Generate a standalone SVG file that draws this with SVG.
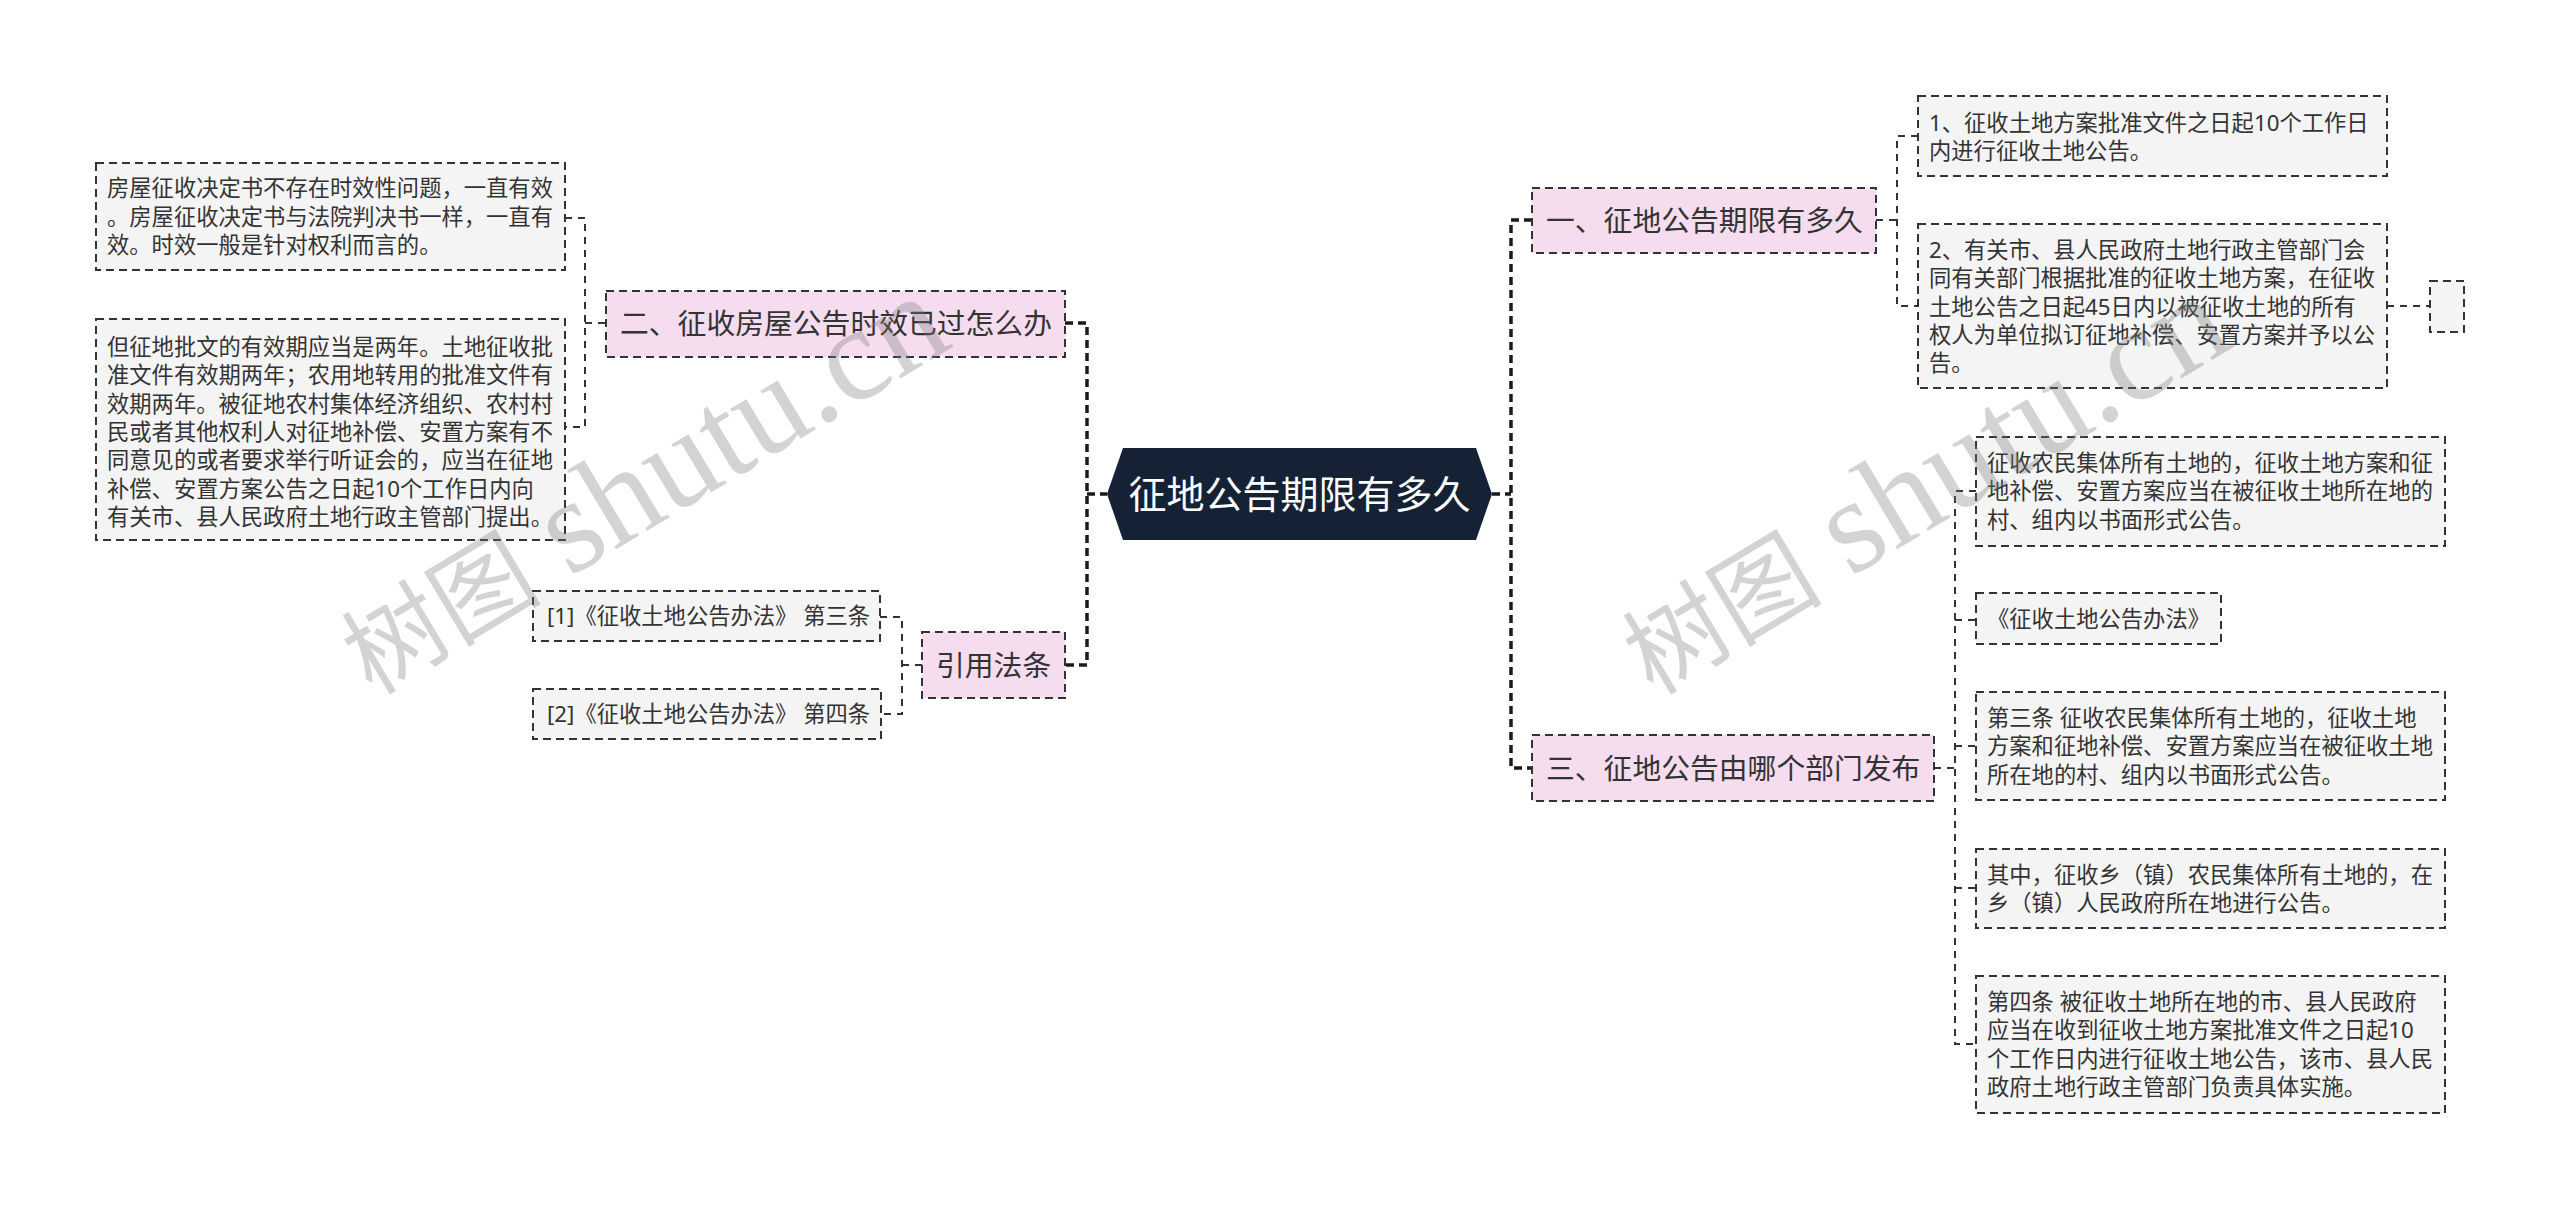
<svg xmlns="http://www.w3.org/2000/svg" width="2560" height="1209" viewBox="0 0 2560 1209">
<style>
.bg{fill:#ffffff}
.box{fill:#f4f4f4;stroke:#333333;stroke-width:2;stroke-dasharray:8 5}
.topic{fill:#f5dcef;stroke:#333333;stroke-width:2;stroke-dasharray:8 5}
.root{fill:#152236}
.t{font-family:"Noto Sans","Noto Sans CJK SC",sans-serif;font-size:22.3px;fill:#333333}
.tt{font-family:"Noto Sans","Noto Sans CJK SC",sans-serif;font-size:28.8px;fill:#333333}
.rt{font-family:"Noto Sans","Noto Sans CJK SC",sans-serif;font-size:38px;fill:#ffffff}
.main{fill:none;stroke:#1a1a1a;stroke-width:3.5;stroke-dasharray:8 5}
.sub{fill:none;stroke:#333333;stroke-width:2;stroke-dasharray:7 6}
.wm{font-family:"Liberation Serif","Noto Sans CJK SC",serif;fill:#7a7a7a;fill-opacity:0.33}
</style>
<rect class="bg" x="0" y="0" width="2560" height="1209"/>

<g id="connectors">
<path class="main" d="M1065,323 H1087 V665 H1065 M1087,494 H1107"/>
<path class="main" d="M1532,220 H1511 V768 H1532 M1492,494 H1511"/>
<path class="sub" d="M565,218 H585 V427 H565 M585,323 H606"/>
<path class="sub" d="M880,617 H902 V714 H881 M902,665 H922"/>
<path class="sub" d="M1876,220 H1897 M1918,136 H1897 V306 H1918"/>
<path class="sub" d="M2387,306 H2430"/>
<path class="sub" d="M1934,768 H1955 M1976,491 H1955 V1044 H1976 M1955,620 H1976 M1955,746 H1976 M1955,888 H1976"/>
</g>

<g id="root">
<polygon class="root" points="1107,494 1123,448 1476,448 1492,494 1476,540 1123,540"/>
<text class="rt" x="1299.5" y="508" text-anchor="middle">征地公告期限有多久</text>
</g>

<g id="topic2">
<rect class="topic" x="606" y="291" width="459" height="66"/>
<text class="tt" x="620" y="334">二、征收房屋公告时效已过怎么办</text>
</g>

<g id="topicRef">
<rect class="topic" x="922" y="632" width="143" height="66"/>
<text class="tt" x="936" y="676">引用法条</text>
</g>

<g id="topic1">
<rect class="topic" x="1532" y="188" width="344" height="65"/>
<text class="tt" x="1546" y="231">一、征地公告期限有多久</text>
</g>

<g id="topic3">
<rect class="topic" x="1532" y="735" width="402" height="66"/>
<text class="tt" x="1546" y="779">三、征地公告由哪个部门发布</text>
</g>

<g id="l1">
<rect class="box" x="96" y="163" width="469" height="107"/>
<text class="t" x="107" y="196">房屋征收决定书不存在时效性问题，一直有效</text>
<text class="t" x="107" y="224.5">。房屋征收决定书与法院判决书一样，一直有</text>
<text class="t" x="107" y="253">效。时效一般是针对权利而言的。</text>
</g>

<g id="l2">
<rect class="box" x="96" y="319" width="469" height="221"/>
<text class="t" x="107" y="355">但征地批文的有效期应当是两年。土地征收批</text>
<text class="t" x="107" y="383.3">准文件有效期两年；农用地转用的批准文件有</text>
<text class="t" x="107" y="411.6">效期两年。被征地农村集体经济组织、农村村</text>
<text class="t" x="107" y="439.9">民或者其他权利人对征地补偿、安置方案有不</text>
<text class="t" x="107" y="468.2">同意见的或者要求举行听证会的，应当在征地</text>
<text class="t" x="107" y="496.5">补偿、安置方案公告之日起10个工作日内向</text>
<text class="t" x="107" y="524.8">有关市、县人民政府土地行政主管部门提出。</text>
</g>

<g id="ref1">
<rect class="box" x="533" y="591" width="347" height="50"/>
<text class="t" x="547" y="624">[1]《征收土地公告办法》 第三条</text>
</g>

<g id="ref2">
<rect class="box" x="533" y="689" width="348" height="50"/>
<text class="t" x="547" y="722">[2]《征收土地公告办法》 第四条</text>
</g>

<g id="r1">
<rect class="box" x="1918" y="96" width="469" height="80"/>
<text class="t" x="1929" y="130.5">1、征收土地方案批准文件之日起10个工作日</text>
<text class="t" x="1929" y="158.8">内进行征收土地公告。</text>
</g>

<g id="r2">
<rect class="box" x="1918" y="224" width="469" height="164"/>
<text class="t" x="1929" y="258">2、有关市、县人民政府土地行政主管部门会</text>
<text class="t" x="1929" y="286.3">同有关部门根据批准的征收土地方案，在征收</text>
<text class="t" x="1929" y="314.6">土地公告之日起45日内以被征收土地的所有</text>
<text class="t" x="1929" y="342.9">权人为单位拟订征地补偿、安置方案并予以公</text>
<text class="t" x="1929" y="371.2">告。</text>
</g>

<g id="r2empty">
<rect class="box" x="2430" y="281" width="34" height="51"/>
</g>

<g id="r3">
<rect class="box" x="1976" y="437" width="469" height="109"/>
<text class="t" x="1987" y="471">征收农民集体所有土地的，征收土地方案和征</text>
<text class="t" x="1987" y="499.3">地补偿、安置方案应当在被征收土地所在地的</text>
<text class="t" x="1987" y="527.6">村、组内以书面形式公告。</text>
</g>

<g id="r4">
<rect class="box" x="1976" y="593" width="245" height="51"/>
<text class="t" x="1987" y="626.5">《征收土地公告办法》</text>
</g>

<g id="r5">
<rect class="box" x="1976" y="692" width="469" height="108"/>
<text class="t" x="1987" y="726">第三条 征收农民集体所有土地的，征收土地</text>
<text class="t" x="1987" y="754.3">方案和征地补偿、安置方案应当在被征收土地</text>
<text class="t" x="1987" y="782.6">所在地的村、组内以书面形式公告。</text>
</g>

<g id="r6">
<rect class="box" x="1976" y="849" width="469" height="79"/>
<text class="t" x="1987" y="883">其中，征收乡（镇）农民集体所有土地的，在</text>
<text class="t" x="1987" y="911.3">乡（镇）人民政府所在地进行公告。</text>
</g>

<g id="r7">
<rect class="box" x="1976" y="976" width="469" height="137"/>
<text class="t" x="1987" y="1010">第四条 被征收土地所在地的市、县人民政府</text>
<text class="t" x="1987" y="1038.3">应当在收到征收土地方案批准文件之日起10</text>
<text class="t" x="1987" y="1066.6">个工作日内进行征收土地公告，该市、县人民</text>
<text class="t" x="1987" y="1094.9">政府土地行政主管部门负责具体实施。</text>
</g>

<g id="watermark">
<text class="wm" transform="translate(372,696) rotate(-31)"><tspan font-size="100">树图</tspan><tspan font-size="134" dx="30">shutu.cn</tspan></text>
<text class="wm" transform="translate(1653,696) rotate(-31)"><tspan font-size="100">树图</tspan><tspan font-size="134" dx="30">shutu.cn</tspan></text>
</g>
</svg>
